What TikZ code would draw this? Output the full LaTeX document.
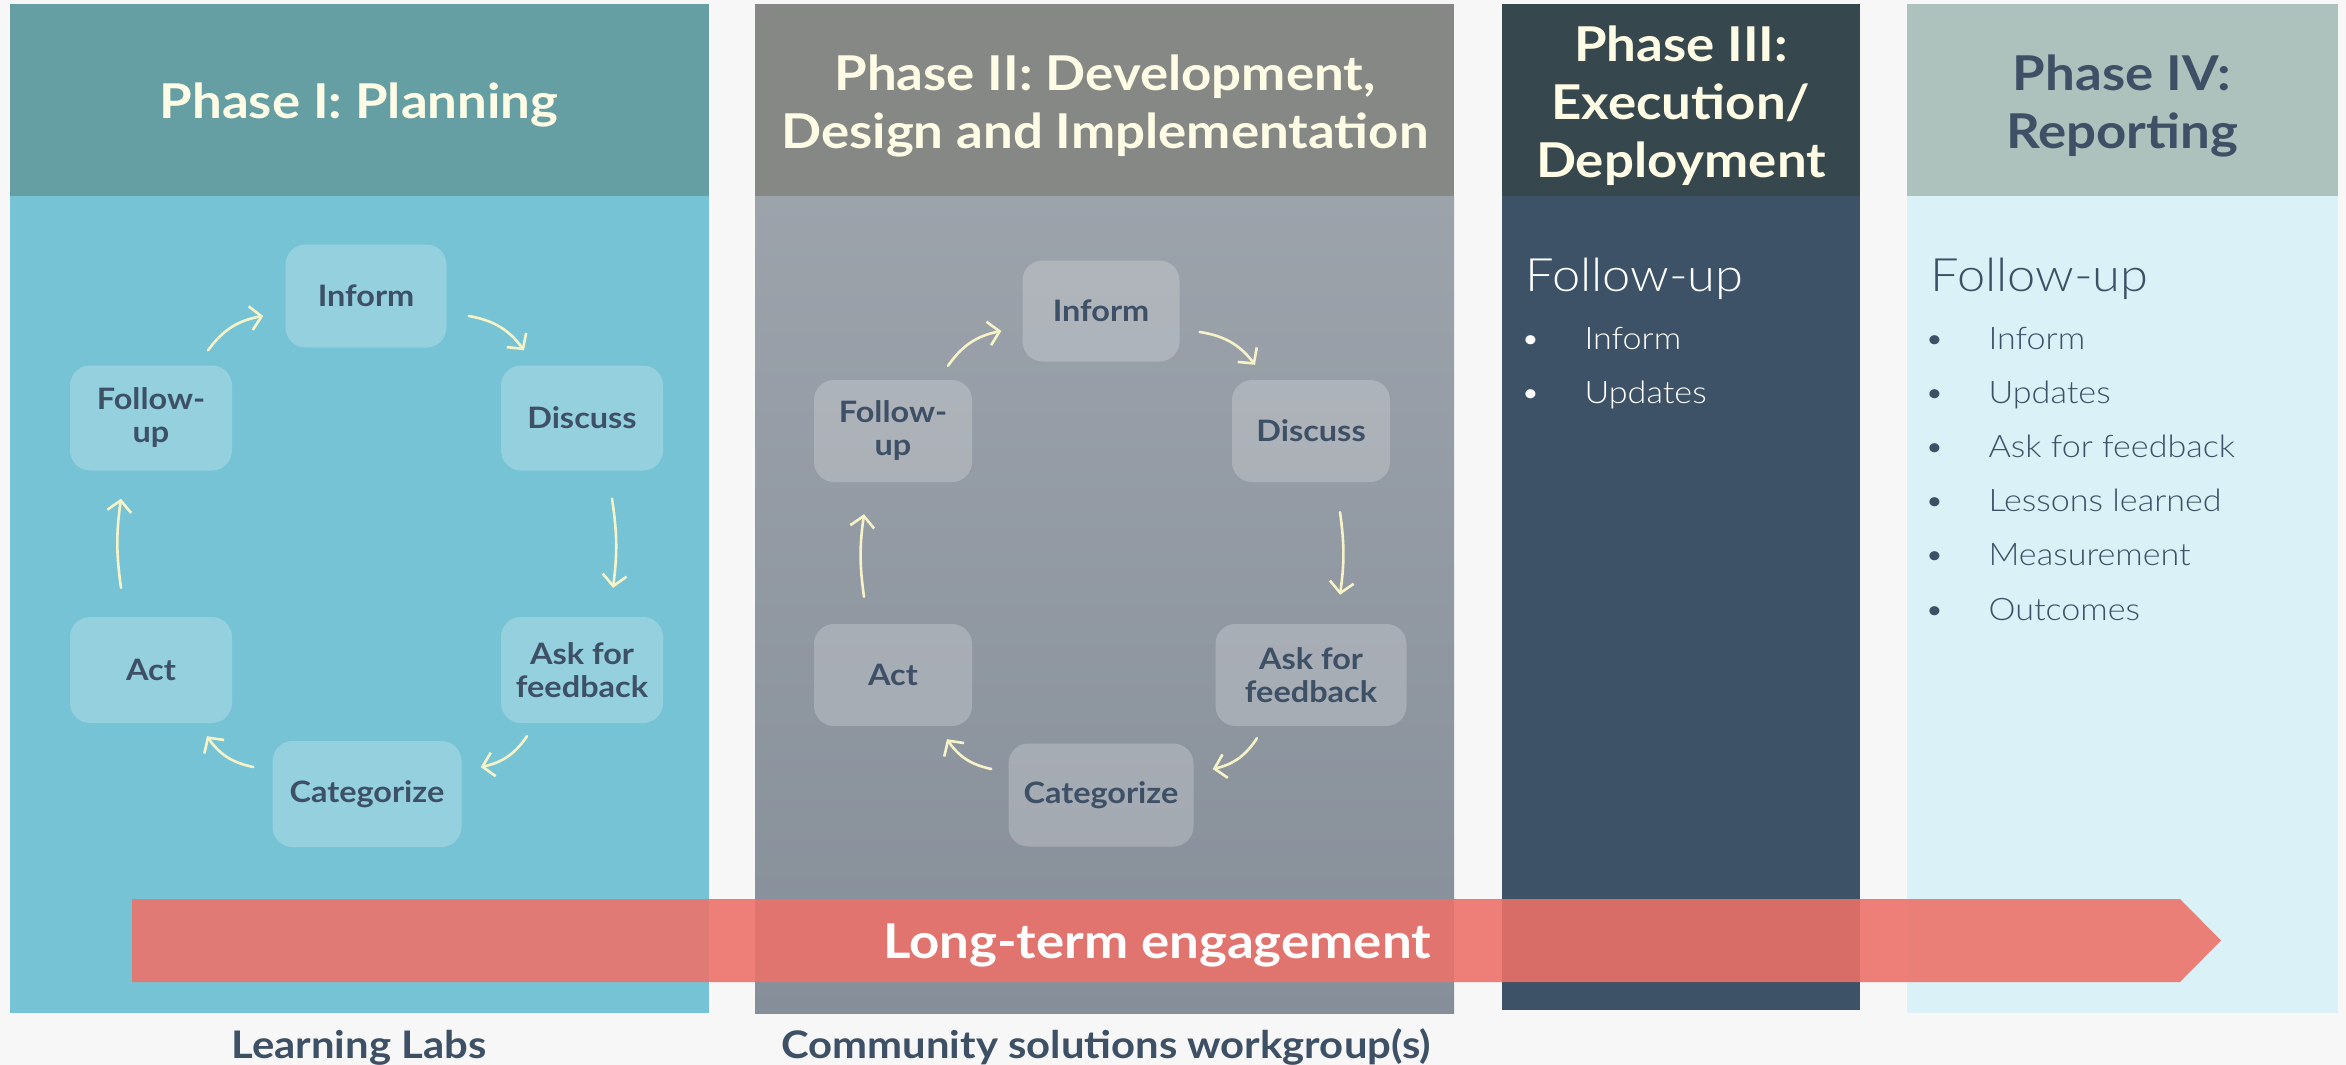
\documentclass[tikz,border=0pt]{standalone}
\usepackage{fontspec}
\setmainfont{Lato}[FakeStretch=1.1]
\newfontfamily\lightfont{Lato Light}[FakeStretch=1.1]
\usetikzlibrary{arrows.meta,calc}

\definecolor{pagebg}{HTML}{F7F7F7}
\definecolor{headA}{HTML}{659FA3}
\definecolor{bodyA}{HTML}{76C3D5}
\definecolor{headB}{HTML}{858884}
\definecolor{bodyBtop}{HTML}{9CA3AB}
\definecolor{bodyBbot}{HTML}{868E99}
\definecolor{headC}{HTML}{37474E}
\definecolor{bodyC}{HTML}{3D5266}
\definecolor{headD}{HTML}{ADC2BC}
\definecolor{bodyD}{HTML}{DAF2F7}
\definecolor{ink}{HTML}{3D5066}
\definecolor{cream}{HTML}{FFFCE6}
\definecolor{arrowcol}{HTML}{F7F3C8}
\definecolor{banner}{HTML}{EC7169}

\begin{document}
\begin{tikzpicture}[x=1pt,y=-1pt,
  stepbox/.style={rectangle, rounded corners=20pt, fill=white, fill opacity=0.22,
    text opacity=1, text=ink, align=center, inner sep=0pt,
    font=\bfseries\fontsize{29.5}{33}\selectfont},
  title/.style={text=cream, align=center, font=\bfseries\fontsize{48}{58}\selectfont},
  cyc/.style={draw=arrowcol, line width=2.6pt, line cap=round,
    -{Straight Barb[length=11pt,width=24pt,line width=2.6pt]}, bend left=22},
  fuhead/.style={anchor=base west, font=\lightfont\fontsize{46}{50}\selectfont},
  itemtext/.style={anchor=base west, font=\lightfont\fontsize{31}{36}\selectfont},
  bottomlabel/.style={anchor=base, text=ink, font=\bfseries\fontsize{38}{42}\selectfont}
]
% page
\fill[pagebg] (0,0) rectangle (2346,1065);
\useasboundingbox (0,0) rectangle (2346,1065);

% ---- column backgrounds
\fill[headA] (10,4) rectangle (709,196);
\fill[bodyA] (10,196) rectangle (709,1013);
\fill[headB] (755,4) rectangle (1454,196);
\shade[top color=bodyBtop, bottom color=bodyBbot] (755,196) rectangle (1454,1013);
\fill[headC] (1502,4) rectangle (1860,196);
\fill[bodyC] (1502,196) rectangle (1860,1010);
\fill[headD] (1907,4) rectangle (2338,196);
\fill[bodyD] (1907,196) rectangle (2338,1013);

% ---- column titles
\node[title] (t1) at (359,105) {Phase I: Planning};
\node[title] (t2) at (1105,106) {Phase II: Development,\\Design and Implementation};
\node[title] (t3) at (1681,106) {Phase III:\\Execution/\\Deployment};
\node[title, text=ink] (t4) at (2122,106) {Phase IV:\\Reporting};

% ---- Phase I cycle
\node[stepbox, minimum width=161pt, minimum height=103pt] (p1inf) at (366,296) {Inform};
\node[stepbox, minimum width=162pt, minimum height=105pt] (p1fu)  at (151,418) {Follow-\\up};
\node[stepbox, minimum width=162pt, minimum height=105pt] (p1dis) at (582,418) {Discuss};
\node[stepbox, minimum width=162pt, minimum height=106pt] (p1act) at (151,670) {Act};
\node[stepbox, minimum width=162pt, minimum height=106pt] (p1ask) at (582,670) {Ask for\\feedback};
\node[stepbox, minimum width=189pt, minimum height=106pt] (p1cat) at (367,794) {Categorize};

\draw[cyc] ($(p1fu.north)+(57,-15)$) to ($(p1inf.west)+(-22,20)$);
\draw[cyc] ($(p1inf.east)+(22,20)$) to ($(p1dis.north)+(-58,-15)$);
\draw[cyc, bend left=8] ($(p1dis.south)+(30,28)$) to ($(p1ask.north)+(31,-29)$);
\draw[cyc] ($(p1ask.south)+(-55,13)$) to ($(p1cat.east)+(19,-27)$);
\draw[cyc] ($(p1cat.west)+(-19,-27)$) to ($(p1act.south)+(56,13)$);
\draw[cyc, bend left=8] ($(p1act.north)+(-30,-29)$) to ($(p1fu.south)+(-30,28)$);

% ---- Phase II cycle
\node[stepbox, minimum width=157pt, minimum height=101pt] (p2inf) at (1101,311) {Inform};
\node[stepbox, minimum width=158pt, minimum height=102pt] (p2fu)  at (893,431) {Follow-\\up};
\node[stepbox, minimum width=158pt, minimum height=102pt] (p2dis) at (1311,431) {Discuss};
\node[stepbox, minimum width=158pt, minimum height=102pt] (p2act) at (893,675) {Act};
\node[stepbox, minimum width=191pt, minimum height=102pt] (p2ask) at (1311,675) {Ask for\\feedback};
\node[stepbox, minimum width=185pt, minimum height=103pt] (p2cat) at (1101,795) {Categorize};

\draw[cyc] ($(p2fu.north)+(55,-14)$) to ($(p2inf.west)+(-21,20)$);
\draw[cyc] ($(p2inf.east)+(20,21)$) to ($(p2dis.north)+(-56,-15)$);
\draw[cyc, bend left=8] ($(p2dis.south)+(29,30)$) to ($(p2ask.north)+(29,-29)$);
\draw[cyc] ($(p2ask.south)+(-54,12)$) to ($(p2cat.east)+(19,-26)$);
\draw[cyc] ($(p2cat.west)+(-17,-26)$) to ($(p2act.south)+(54,13)$);
\draw[cyc, bend left=8] ($(p2act.north)+(-29,-27)$) to ($(p2fu.south)+(-29,32)$);

% ---- Phase III list
\node[fuhead, text=white] (p3head) at (1522,291) {Follow-up};
\foreach \t [count=\i] in {Inform,Updates}{
  \node[itemtext, text=white] (p3b\i) at (1517,349+54*\i-54) {\textbullet};
  \node[itemtext, text=white] (p3i\i) at (1581,349+54*\i-54) {\t};
}

% ---- Phase IV list
\node[fuhead, text=ink] (p4head) at (1927,291) {Follow-up};
\foreach \t [count=\i] in {Inform,Updates,Ask for feedback,Lessons learned,Measurement,Outcomes}{
  \node[itemtext, text=ink] (p4b\i) at (1921,349+54.2*\i-54.2) {\textbullet};
  \node[itemtext, text=ink] (p4i\i) at (1985,349+54.2*\i-54.2) {\t};
}

% ---- long-term engagement banner
\fill[banner, fill opacity=0.89] (132,899) -- (2180,899) -- (2221,940.5) -- (2180,982) -- (132,982) -- cycle;
\node[text=white, font=\bfseries\fontsize{48}{52}\selectfont] (lte) at (1157,945) {Long-term engagement};

% ---- labels under the first two columns
\node[bottomlabel] (lab1) at (359,1058) {Learning Labs};
\node[bottomlabel] (lab2) at (1106,1058) {Community solutions workgroup(s)};
\end{tikzpicture}
\end{document}
